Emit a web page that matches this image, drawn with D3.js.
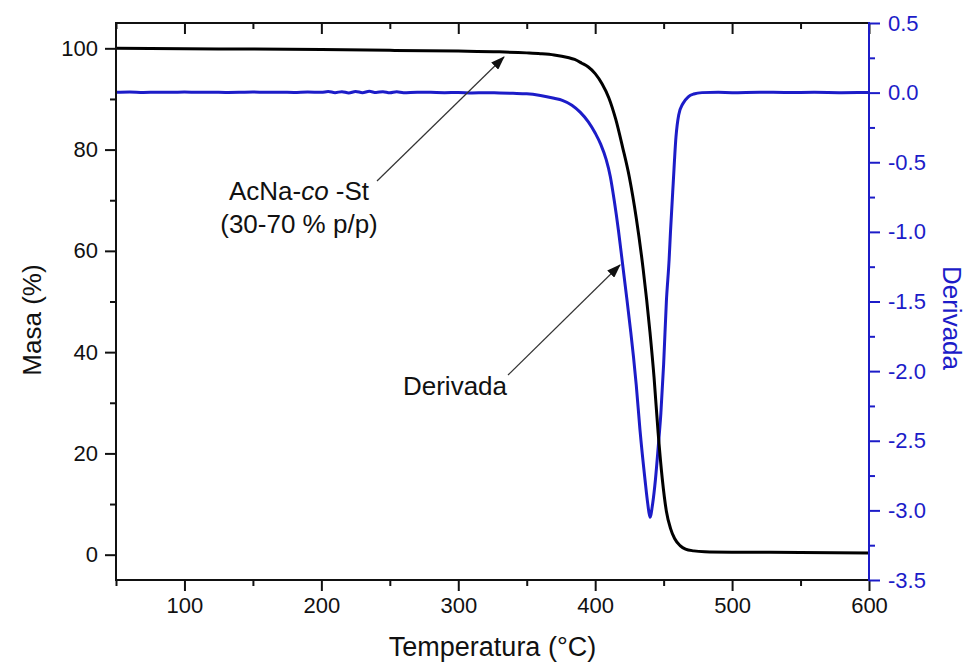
<!DOCTYPE html>
<html>
<head>
<meta charset="utf-8">
<script src="https://cdn.jsdelivr.net/npm/d3@7"></script>
<style>
  html, body { margin: 0; padding: 0; background: #fff; }
  svg { display: block; font-family: "Liberation Sans", Arial, sans-serif; }
</style>
</head>
<body>
<div id="chart"></div>
<script>
// TGA curve (mass %) and its derivative for AcNa-co-St (30-70 % p/p)

const massTemps = [
    50, 100, 150, 200, 250, 300, 330, 350, 360, 370,
    380, 385, 390, 395, 400, 405, 410, 415, 420, 425,
    430, 435, 440, 443, 446, 449, 452, 455, 458, 462,
    466, 472, 480, 500, 550, 600
];
const massValues = [
    100.0, 99.9, 99.85, 99.75, 99.6, 99.45, 99.3, 99.1, 98.95, 98.7,
    98.2, 97.8, 97.1, 96.3, 95.0, 93.0, 90.2, 86.0, 80.5, 74.5,
    66.5, 56.5, 44.0, 35.0, 24.0, 15.0, 8.6, 5.2, 3.2, 1.8,
    1.1, 0.75, 0.58, 0.5, 0.45, 0.35
];

const derivTemps = [
    50, 60, 70, 80, 90, 100, 110, 120, 130, 140,
    150, 160, 170, 180, 190, 200, 205, 210, 215, 220,
    225, 230, 235, 240, 245, 250, 255, 260, 270, 280,
    290, 300, 310, 320, 330, 340, 350, 360, 370, 376,
    383, 389, 395, 400, 404, 408, 411, 414, 417, 420,
    423, 426, 428, 430, 432.7, 436.4, 438.5, 440, 442, 444,
    446, 448, 450, 452, 454, 455, 457, 459, 461, 464,
    468, 472, 478, 490, 500, 520, 540, 560, 580, 600
];
const derivValues = [
    0.002, 0.004, 0.001, 0.003, 0.002, 0.004, 0.002, 0.003, 0.001, 0.002,
    0.004, 0.002, 0.003, 0.001, 0.004, 0.002, 0.008, 0.000, 0.007, -0.002,
    0.008, 0.000, 0.009, 0.001, 0.007, -0.001, 0.006, 0.000, 0.003, 0.002,
    0.000, 0.001, -0.002, 0.000, -0.003, -0.005, -0.008, -0.020, -0.040, -0.055,
    -0.09, -0.14, -0.21, -0.29, -0.37, -0.48, -0.60, -0.78, -0.99, -1.23,
    -1.47, -1.72, -1.90, -2.10, -2.42, -2.78, -2.96, -3.05, -2.95, -2.78,
    -2.55, -2.30, -1.95, -1.50, -1.20, -1.00, -0.65, -0.32, -0.16, -0.08,
    -0.03, -0.01, 0.000, 0.002, 0.000, 0.003, 0.001, 0.002, 0.000, 0.001
];

const xTicks = [100, 200, 300, 400, 500, 600];
const xMinorTicks = [50, 150, 250, 350, 450, 550];
const massTicks = [0, 20, 40, 60, 80, 100];
const massMinorTicks = [10, 30, 50, 70, 90];
const derivTicks = [0.5, 0.0, -0.5, -1.0, -1.5, -2.0, -2.5, -3.0, -3.5];
const derivMinorTicks = [0.25, -0.25, -0.75, -1.25, -1.75, -2.25, -2.75, -3.25];

const W = 968, H = 669;
const mLeft = 116, mRight = 869, mTop = 23, mBottom = 580;
const BLUE = '#1c1cc8';
const FONT = '"Liberation Sans", Arial, sans-serif';

const svg = d3.select('#chart').append('svg')
    .attr('width', W).attr('height', H);

const x = d3.scaleLinear().domain([50, 600]).range([mLeft, mRight]);
const yMass = d3.scaleLinear().domain([-5, 105]).range([mBottom, mTop]);
const yDeriv = d3.scaleLinear().domain([-3.5, 0.5]).range([mBottom, mTop]);

const defs = svg.append('defs');
defs.append('marker').attr('id', 'arrow')
    .attr('viewBox', '0 0 14 10').attr('refX', 13).attr('refY', 5)
    .attr('markerWidth', 14).attr('markerHeight', 10)
    .attr('markerUnits', 'userSpaceOnUse').attr('orient', 'auto')
    .append('path').attr('d', 'M0,0 L14,5 L0,10 z').attr('fill', '#111');

// Curves
const massLine = d3.line().x(d => x(d[0])).y(d => yMass(d[1])).curve(d3.curveMonotoneX);
const derivLine = d3.line().x(d => x(d[0])).y(d => yDeriv(d[1])).curve(d3.curveMonotoneX);

svg.append('path')
    .datum(derivTemps.map((t, i) => [t, derivValues[i]]))
    .attr('d', derivLine)
    .attr('fill', 'none').attr('stroke', BLUE).attr('stroke-width', 3);

svg.append('path')
    .datum(massTemps.map((t, i) => [t, massValues[i]]))
    .attr('d', massLine)
    .attr('fill', 'none').attr('stroke', '#000').attr('stroke-width', 3);

// Axes helper
function styleAxis(g, color, fontSize) {
    g.select('.domain').remove();
    g.selectAll('line').attr('stroke', color).attr('stroke-width', 2);
    g.selectAll('text').attr('fill', color)
        .style('font-family', FONT).style('font-size', fontSize + 'px');
}

// Bottom axis
const gx = svg.append('g').attr('transform', `translate(0,${mBottom})`)
    .call(d3.axisBottom(x).tickValues(xTicks).tickSize(11).tickPadding(6).tickSizeOuter(0));
styleAxis(gx, '#111', 22);
const gxm = svg.append('g').attr('transform', `translate(0,${mBottom})`)
    .call(d3.axisBottom(x).tickValues(xMinorTicks).tickSize(6).tickFormat(''));
styleAxis(gxm, '#111', 22);

// Top axis (ticks inward)
const gt = svg.append('g').attr('transform', `translate(0,${mTop})`)
    .call(d3.axisBottom(x).tickValues(xTicks).tickSize(11).tickFormat(''));
styleAxis(gt, '#111', 22);
const gtm = svg.append('g').attr('transform', `translate(0,${mTop})`)
    .call(d3.axisBottom(x).tickValues(xMinorTicks).tickSize(6).tickFormat(''));
styleAxis(gtm, '#111', 22);

// Left axis
const gy = svg.append('g').attr('transform', `translate(${mLeft},0)`)
    .call(d3.axisLeft(yMass).tickValues(massTicks).tickSize(11).tickPadding(7));
styleAxis(gy, '#111', 22);
const gym = svg.append('g').attr('transform', `translate(${mLeft},0)`)
    .call(d3.axisLeft(yMass).tickValues(massMinorTicks).tickSize(6).tickFormat(''));
styleAxis(gym, '#111', 22);

// Right axis (derivative, blue)
const gr = svg.append('g').attr('transform', `translate(${mRight},0)`)
    .call(d3.axisRight(yDeriv).tickValues(derivTicks).tickSize(11).tickPadding(8)
        .tickFormat(d => d3.format('.1f')(d).replace('−', '-')));
styleAxis(gr, BLUE, 22);
const grm = svg.append('g').attr('transform', `translate(${mRight},0)`)
    .call(d3.axisRight(yDeriv).tickValues(derivMinorTicks).tickSize(6).tickFormat(''));
styleAxis(grm, BLUE, 22);

// Frame lines
svg.append('line').attr('x1', mLeft).attr('x2', mRight).attr('y1', mTop).attr('y2', mTop)
    .attr('stroke', '#111').attr('stroke-width', 2);
svg.append('line').attr('x1', mLeft).attr('x2', mRight).attr('y1', mBottom).attr('y2', mBottom)
    .attr('stroke', '#111').attr('stroke-width', 2);
svg.append('line').attr('x1', mLeft).attr('x2', mLeft).attr('y1', mTop - 1).attr('y2', mBottom + 1)
    .attr('stroke', '#111').attr('stroke-width', 2);
svg.append('line').attr('x1', mRight).attr('x2', mRight).attr('y1', mTop - 1).attr('y2', mBottom + 1)
    .attr('stroke', BLUE).attr('stroke-width', 2);

// Axis titles
svg.append('text')
    .attr('x', (mLeft + mRight) / 2).attr('y', 656)
    .attr('text-anchor', 'middle')
    .style('font-family', FONT).style('font-size', '27px').attr('fill', '#111')
    .text('Temperatura (°C)');

svg.append('text')
    .attr('transform', 'translate(41,320) rotate(-90)')
    .attr('text-anchor', 'middle')
    .style('font-family', FONT).style('font-size', '26px').attr('fill', '#111')
    .text('Masa (%)');

svg.append('text')
    .attr('transform', 'translate(943,318) rotate(90)')
    .attr('text-anchor', 'middle')
    .style('font-family', FONT).style('font-size', '26px').attr('fill', BLUE)
    .text('Derivada');

// Annotations
const ann = svg.append('text')
    .attr('x', 299).attr('y', 200)
    .attr('text-anchor', 'middle')
    .style('font-family', FONT).style('font-size', '26px').attr('fill', '#111');
ann.append('tspan').text('AcNa-');
ann.append('tspan').style('font-style', 'italic').text('co');
ann.append('tspan').text(' -St');

svg.append('text')
    .attr('x', 299).attr('y', 233)
    .attr('text-anchor', 'middle')
    .style('font-family', FONT).style('font-size', '26px').attr('fill', '#111')
    .text('(30-70 % p/p)');

svg.append('text')
    .attr('x', 455).attr('y', 395)
    .attr('text-anchor', 'middle')
    .style('font-family', FONT).style('font-size', '26px').attr('fill', '#111')
    .text('Derivada');

// Arrows
svg.append('line')
    .attr('x1', 377).attr('y1', 181).attr('x2', 504).attr('y2', 57)
    .attr('stroke', '#333').attr('stroke-width', 1.2)
    .attr('marker-end', 'url(#arrow)');
svg.append('line')
    .attr('x1', 508).attr('y1', 375).attr('x2', 620).attr('y2', 265)
    .attr('stroke', '#333').attr('stroke-width', 1.2)
    .attr('marker-end', 'url(#arrow)');
</script>
</body>
</html>
